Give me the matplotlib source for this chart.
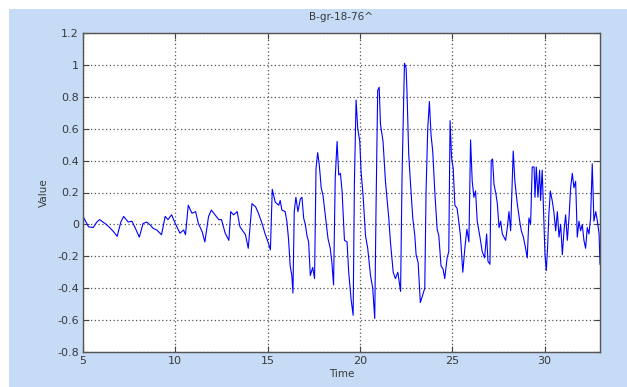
import numpy as np
import matplotlib.pyplot as plt
from matplotlib.patches import Rectangle

# Sampled record: time (s) and value
time = [
    5.0, 5.3, 5.55, 5.75, 5.9, 6.2, 6.4, 6.65, 6.85, 7.05, 7.2, 7.45, 7.65, 7.8,
    8.05, 8.25, 8.45, 8.65, 8.8, 9.0, 9.25, 9.45, 9.6, 9.8, 10.0, 10.25, 10.45,
    10.55, 10.7, 10.9, 11.1, 11.25, 11.45, 11.6, 11.8, 11.95, 12.15, 12.35, 12.5,
    12.7, 12.9, 13.0, 13.15, 13.35, 13.5, 13.8, 13.95, 14.15, 14.35, 14.5, 14.7,
    14.85, 15.05, 15.15, 15.25, 15.41, 15.6, 15.68, 15.77, 15.95, 16.04, 16.13,
    16.22, 16.31, 16.37, 16.44, 16.53, 16.64, 16.77, 16.86, 16.95, 17.04, 17.13,
    17.22, 17.31, 17.44, 17.54, 17.62, 17.71, 17.8, 17.9, 18.0, 18.12, 18.27,
    18.39, 18.48, 18.57, 18.66, 18.76, 18.85, 18.94, 19.03, 19.16, 19.3, 19.39,
    19.52, 19.63, 19.7, 19.79, 19.88, 19.99, 20.06, 20.17, 20.3, 20.42, 20.57,
    20.69, 20.8, 20.87, 20.96, 21.04, 21.11, 21.25, 21.38, 21.56, 21.65, 21.8,
    21.92, 22.05, 22.2, 22.28, 22.41, 22.5, 22.55, 22.64, 22.73, 22.86, 22.97,
    23.04, 23.15, 23.27, 23.4, 23.51, 23.58, 23.67, 23.76, 23.85, 23.94, 24.05,
    24.18, 24.27, 24.39, 24.5, 24.59, 24.72, 24.81, 24.88, 24.96, 25.05, 25.14,
    25.26, 25.35, 25.44, 25.57, 25.68, 25.79, 25.9, 25.99, 26.08, 26.17, 26.26,
    26.35, 26.5, 26.62, 26.75, 26.86, 26.93, 27.04, 27.11, 27.18, 27.26, 27.35,
    27.44, 27.53, 27.62, 27.71, 27.8, 27.89, 27.98, 28.07, 28.16, 28.25, 28.3,
    28.39, 28.52, 28.65, 28.74, 28.85, 28.97, 29.06, 29.15, 29.24, 29.33, 29.43,
    29.48, 29.55, 29.64, 29.73, 29.78, 29.87, 29.96, 30.02, 30.09, 30.16, 30.23,
    30.31, 30.41, 30.5, 30.6, 30.69, 30.78, 30.87, 30.96, 31.05, 31.14, 31.23,
    31.32, 31.41, 31.5, 31.59, 31.68, 31.77, 31.86, 31.95, 32.04, 32.13, 32.22,
    32.31, 32.4, 32.49, 32.58, 32.67, 32.77, 32.86, 32.95, 33.0,
]
value = [
    0.05, -0.015, -0.02, 0.015, 0.03, 0.005, -0.015, -0.045, -0.075, 0.015, 0.05,
    0.015, 0.02, -0.015, -0.08, 0.005, 0.015, -0.005, -0.025, -0.035, -0.065,
    0.05, 0.03, 0.06, 0.005, -0.055, -0.035, -0.065, 0.12, 0.07, 0.08, 0.005,
    -0.045, -0.11, 0.05, 0.09, 0.06, 0.03, 0.03, -0.055, -0.1, 0.08, 0.06, 0.08,
    -0.015, -0.065, -0.15, 0.13, 0.11, 0.07, 0.005, -0.055, -0.12, -0.16, 0.22,
    0.14, 0.12, 0.15, 0.09, 0.08, 0.02, -0.09, -0.26, -0.32, -0.43, 0.08, 0.17,
    0.08, 0.16, 0.17, 0.04, 0.0, -0.07, -0.11, -0.32, -0.27, -0.34, 0.35, 0.45,
    0.37, 0.23, 0.18, 0.06, -0.09, -0.15, -0.24, -0.38, 0.29, 0.52, 0.31, 0.32,
    0.21, -0.10, -0.11, -0.30, -0.47, -0.57, 0.27, 0.78, 0.6, 0.52, 0.33, 0.18,
    -0.07, -0.15, -0.32, -0.40, -0.59, 0.1, 0.84, 0.86, 0.63, 0.52, 0.27, 0.04,
    -0.11, -0.30, -0.34, -0.30, -0.42, 0.31, 1.01, 0.98, 0.82, 0.44, 0.27, 0.04,
    -0.07, -0.19, -0.24, -0.49, -0.44, -0.40, 0.21, 0.6, 0.77, 0.56, 0.46, 0.21,
    -0.03, -0.07, -0.26, -0.28, -0.34, -0.21, -0.17, 0.65, 0.42, 0.35, 0.12, 0.1,
    0.02, -0.07, -0.30, -0.15, -0.03, -0.11, 0.53, 0.27, 0.17, 0.21, 0.02, -0.08,
    -0.17, -0.21, -0.06, -0.23, -0.25, 0.4, 0.41, 0.25, 0.2, 0.13, -0.02, 0.02,
    -0.06, -0.08, -0.1, -0.02, 0.08, -0.04, 0.27, 0.46, 0.27, 0.13, 0.02, -0.04,
    -0.08, -0.15, -0.21, 0.04, 0.0, 0.36, 0.36, 0.17, 0.36, 0.17, 0.34, 0.15,
    0.34, 0.02, -0.19, -0.29, -0.15, 0.06, 0.21, 0.15, 0.08, -0.04, 0.08, -0.08,
    0.0, -0.19, -0.04, 0.06, -0.1, 0.04, 0.23, 0.32, 0.23, 0.27, -0.08, 0.02,
    -0.04, 0.0, -0.1, -0.15, -0.02, -0.06, 0.04, 0.38, 0.02, 0.08, 0.02, -0.06,
    -0.25,
]

xticks = [5, 10, 15, 20, 25, 30]
yticks = [-0.8, -0.6, -0.4, -0.2, 0, 0.2, 0.4, 0.6, 0.8, 1, 1.2]
ytick_labels = ['-0.8', '-0.6', '-0.4', '-0.2', '0', '0.2', '0.4', '0.6', '0.8', '1', '1.2']

bg = '#c6dbf5'
txt = '#3a3a3a'

fig = plt.figure(figsize=(6.27, 3.87), dpi=100, facecolor='white')
# light blue panel with a thin white margin at top and left
fig.patches.append(Rectangle((9 / 627, 0), 1 - 9 / 627, (387 - 9) / 387,
                             transform=fig.transFigure, facecolor=bg,
                             edgecolor='none', zorder=-10))

ax = fig.add_axes([83 / 627, 1 - 352 / 387, 517 / 627, 319 / 387])
ax.set_facecolor('white')
ax.plot(time, value, color='#0000ff', lw=0.8)

ax.set_xlim(5, 33)
ax.set_ylim(-0.8, 1.2)
ax.set_xticks(xticks)
ax.set_yticks(yticks)
ax.set_yticklabels(ytick_labels)
ax.grid(True, color='#555555', linestyle=(0, (1, 2)), linewidth=0.9)
ax.tick_params(direction='in', length=4, color='#444444', labelsize=8,
               labelcolor=txt, top=True, right=True, pad=3)
for sp in ax.spines.values():
    sp.set_color('#555555')
    sp.set_linewidth(1.0)

ax.set_title('B-gr-18-76^', fontsize=7.5, color=txt, pad=9)
ax.set_xlabel('Time', fontsize=7.5, color=txt, labelpad=2)
ax.set_ylabel('Value', fontsize=7.5, color=txt, labelpad=6)

fig.savefig('out.png', dpi=100, facecolor=fig.get_facecolor())
